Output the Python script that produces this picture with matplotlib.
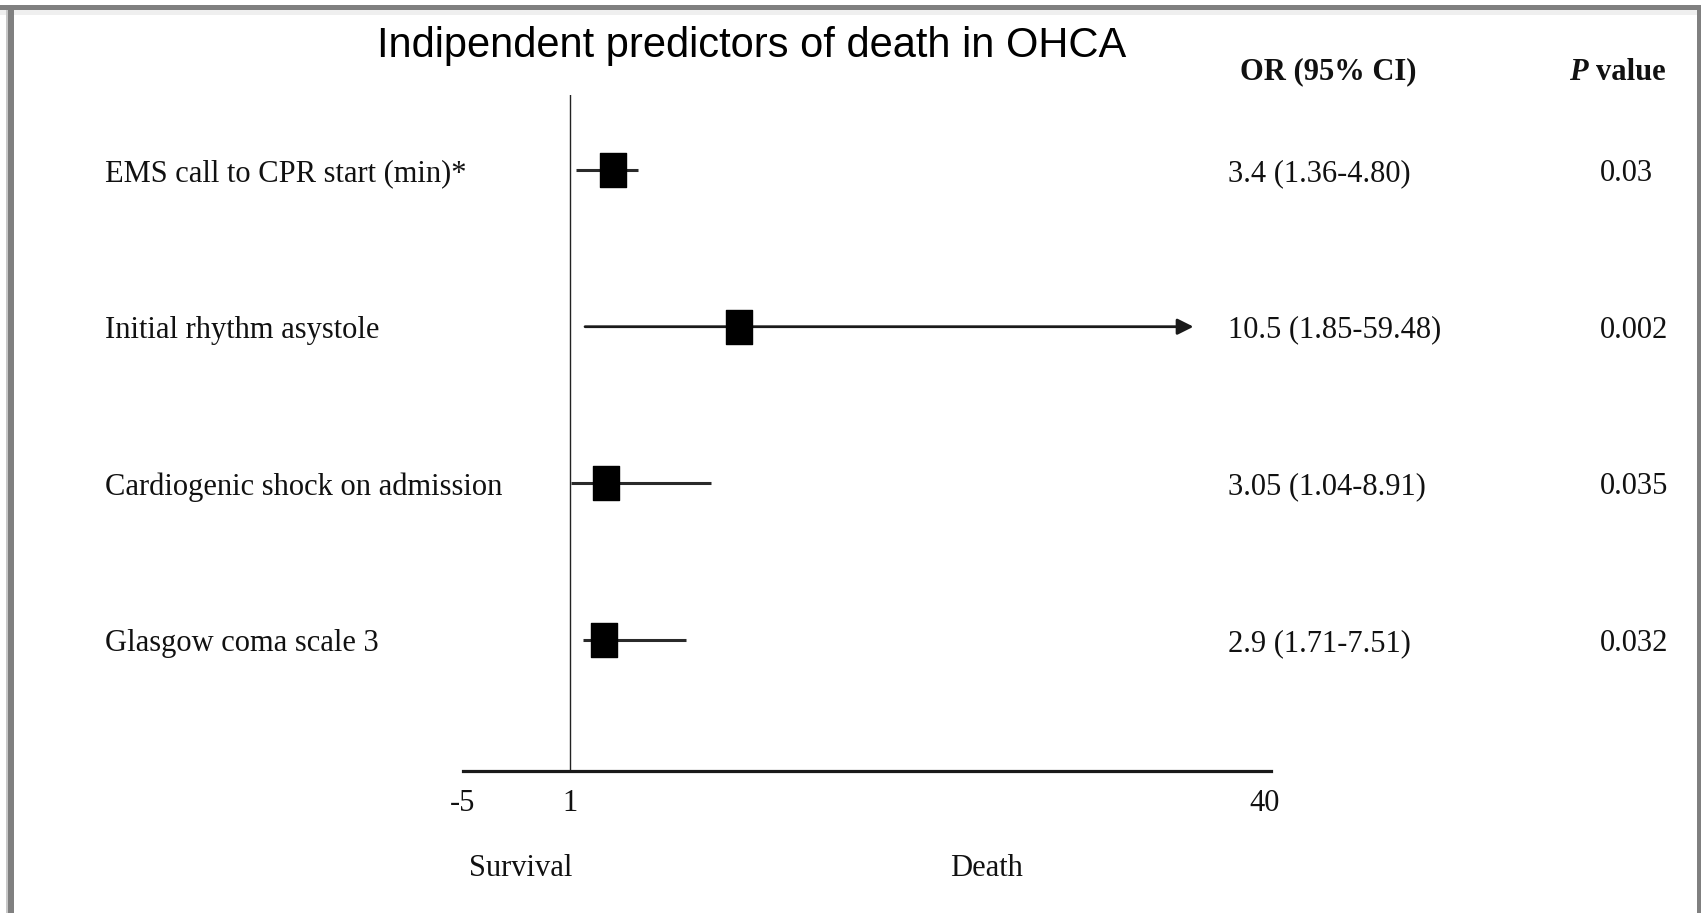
import numpy as np
import matplotlib.pyplot as plt
from matplotlib.patches import Rectangle
from matplotlib.path import Path
from matplotlib.transforms import blended_transform_factory

# forest plot: independent predictors of death (odds ratios, 95% CI)
predictors = ["EMS call to CPR start (min)*", "Initial rhythm asystole",
              "Cardiogenic shock on admission", "Glasgow coma scale 3"]
odds_ratio = [3.4, 10.5, 3.05, 2.9]
ci_low = [1.36, 1.85, 1.04, 1.71]
ci_high = [4.80, 59.48, 8.91, 7.51]
or_text = ["3.4 (1.36-4.80)", "10.5 (1.85-59.48)",
           "3.05 (1.04-8.91)", "2.9 (1.71-7.51)"]
p_text = ["0.03", "0.002", "0.035", "0.032"]
x_ticks = [-5, 1, 40]
x_ticklabels = ["-5", "1", "40"]

W, H, DPI = 1701, 913, 100
SERIF = "Liberation Serif"
FS = 22
INK = "#111111"
CI_CAP = 36          # upper limits beyond this are drawn as an arrow


def fx(px):
    return px / W


def fy(py):
    return 1 - py / H


fig = plt.figure(figsize=(W / DPI, H / DPI), dpi=DPI)
fig.patch.set_facecolor("white")

# grey frame around the figure (open at the bottom)
for x0, y0, w, h, c in [(0, 10, W, 5, "#efefef"),
                        (6, 5, 2, H, "#c8c8c8"),
                        (0, 5, W, 5, "#808080"),
                        (8, 5, 6, H, "#808080"),
                        (1697, 5, 4, H, "#808080")]:
    fig.add_artist(Rectangle((fx(x0), fy(y0 + h)), w / W, h / H,
                             transform=fig.transFigure, color=c, lw=0, zorder=0))

ax = fig.add_axes([fx(463), fy(771), fx(1271) - fx(463), fy(95) - fy(771)])
ax.set_xlim(-5, 40.35)
ax.set_ylim(3.836, -0.479)
ax.set_facecolor("none")
for s in ("top", "right", "left"):
    ax.spines[s].set_visible(False)
ax.spines["bottom"].set_linewidth(2.3)
ax.spines["bottom"].set_color("#1a1a1a")
ax.set_yticks([])
ax.set_xticks(x_ticks)
ax.set_xticklabels(x_ticklabels, fontsize=FS, family=SERIF, color=INK)
ax.tick_params(axis="x", length=0, pad=13)

# line of no effect
ax.axvline(1, color="#222222", lw=1.0)

rows = np.arange(len(predictors))
rect = Path([(-13, -17), (13, -17), (13, 17), (-13, 17), (-13, -17)],
            [Path.MOVETO, Path.LINETO, Path.LINETO, Path.LINETO, Path.CLOSEPOLY])

for y, lo, hi in zip(rows, ci_low, ci_high):
    if hi > CI_CAP:
        ax.annotate("", xy=(CI_CAP, y), xytext=(lo, y),
                    arrowprops=dict(arrowstyle="-|>", color="#1a1a1a", lw=2.0,
                                    mutation_scale=24, shrinkA=0, shrinkB=0))
    else:
        ax.hlines(y, lo, hi, color="#2a2a2a", lw=2.2)
ax.plot(odds_ratio, rows, ls="none", marker=rect, ms=24.5, color="black", zorder=3)

# text columns
row_tr = blended_transform_factory(fig.transFigure, ax.transData)
for y, name, ort, pt in zip(rows, predictors, or_text, p_text):
    ax.text(fx(105), y, name, transform=row_tr, ha="left", va="center_baseline",
            fontsize=FS, family=SERIF, color=INK)
    ax.text(fx(1228), y, ort, transform=row_tr, ha="left", va="center_baseline",
            fontsize=FS, family=SERIF, color=INK)
    ax.text(fx(1600), y, pt, transform=row_tr, ha="left", va="center_baseline",
            fontsize=FS, family=SERIF, color=INK)

fig.text(fx(1328), fy(72), "OR (95% CI)", ha="center", va="center",
         fontsize=FS, family=SERIF, weight="bold", color=INK)
fig.text(fx(1588), fy(72), "P", ha="right", va="center",
         fontsize=FS, family=SERIF, weight="bold", style="italic", color=INK)
fig.text(fx(1596), fy(72), "value", ha="left", va="center",
         fontsize=FS, family=SERIF, weight="bold", color=INK)

# outcome direction labels under the axis
lab_tr = blended_transform_factory(ax.transData, fig.transFigure)
ax.text(-1.75, fy(868), "Survival", transform=lab_tr, ha="center", va="center",
        fontsize=FS, family=SERIF, color=INK)
ax.text(24.4, fy(868), "Death", transform=lab_tr, ha="center", va="center",
        fontsize=FS, family=SERIF, color=INK)

fig.text(fx(752), fy(46), "Indipendent predictors of death in OHCA",
         ha="center", va="center", fontsize=30, family="Liberation Sans",
         color="black")

fig.savefig("out.png", dpi=DPI)
